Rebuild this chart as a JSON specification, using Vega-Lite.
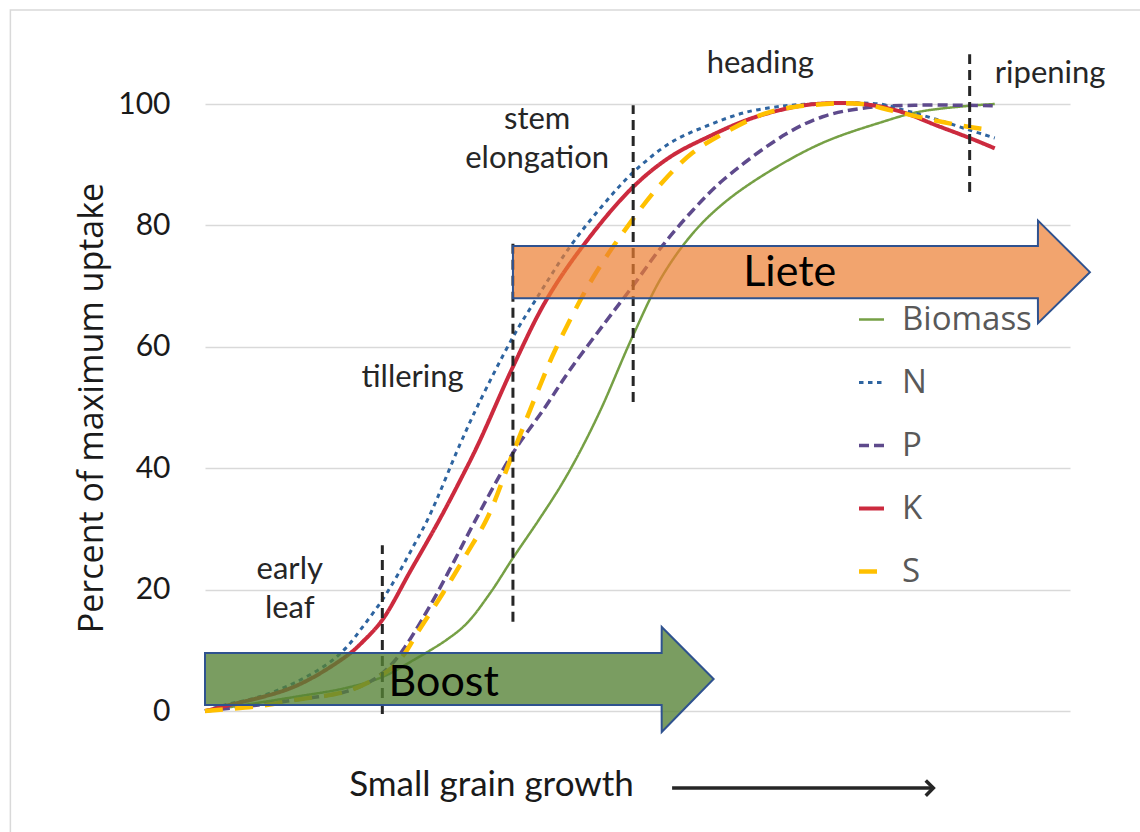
{
  "$schema": "https://vega.github.io/schema/vega-lite/v6.json",
  "width": 865,
  "height": 607,
  "autosize": {"type": "none"},
  "padding": {"left": 205, "top": 104, "right": 70, "bottom": 121},
  "background": "white",
  "config": {
    "view": {"stroke": null},
    "axis": {"titleFontWeight": "normal"}
  },
  "layer": [
    {
      "data": {"values": [{"x": -22.5, "x2": 200, "y": 115.5, "y2": -200}]},
      "mark": {"type": "rect", "fill": null, "stroke": "#d9d9d9", "strokeWidth": 1.5, "clip": false},
      "encoding": {
        "x": {"field": "x", "type": "quantitative", "scale": {"domain": [0, 100], "nice": false}},
        "x2": {"field": "x2"},
        "y": {"field": "y", "type": "quantitative", "scale": {"domain": [0, 100], "nice": false}},
        "y2": {"field": "y2"}
      }
    },
    {
      "data": {"values": [
        {"s":"Biomass","x":0,"y":0},{"s":"Biomass","x":10.3,"y":2.3},{"s":"Biomass","x":16.3,"y":3.8},{"s":"Biomass","x":20.5,"y":5.6},{"s":"Biomass","x":24,"y":8.3},{"s":"Biomass","x":28,"y":11.8},{"s":"Biomass","x":30.3,"y":14.5},{"s":"Biomass","x":33,"y":19.5},{"s":"Biomass","x":35.6,"y":25.2},{"s":"Biomass","x":38.6,"y":31.5},{"s":"Biomass","x":41.0,"y":36.8},{"s":"Biomass","x":43.0,"y":41.8},{"s":"Biomass","x":45.7,"y":49.5},{"s":"Biomass","x":49.4,"y":61.6},{"s":"Biomass","x":52.8,"y":71.5},{"s":"Biomass","x":56.4,"y":78.7},{"s":"Biomass","x":60.0,"y":83.7},{"s":"Biomass","x":64.9,"y":88.6},{"s":"Biomass","x":71.4,"y":93.6},{"s":"Biomass","x":78.2,"y":97},{"s":"Biomass","x":82.5,"y":98.7},{"s":"Biomass","x":88.3,"y":99.7},{"s":"Biomass","x":91.3,"y":100},
        {"s":"P","x":0,"y":0},{"s":"P","x":6.2,"y":1},{"s":"P","x":10.3,"y":1.8},{"s":"P","x":16.3,"y":3.2},{"s":"P","x":19.4,"y":5.1},{"s":"P","x":21.5,"y":7.6},{"s":"P","x":23.1,"y":10.5},{"s":"P","x":26.2,"y":17.8},{"s":"P","x":28.7,"y":24.4},{"s":"P","x":31.1,"y":31},{"s":"P","x":35.6,"y":42.5},{"s":"P","x":39.2,"y":49.8},{"s":"P","x":42.2,"y":56.2},{"s":"P","x":46.2,"y":63.9},{"s":"P","x":49.4,"y":69.9},{"s":"P","x":52.8,"y":76.5},{"s":"P","x":56.4,"y":82.5},{"s":"P","x":60.0,"y":87.6},{"s":"P","x":67.1,"y":95},{"s":"P","x":71.4,"y":97.9},{"s":"P","x":76.0,"y":99.3},{"s":"P","x":82.0,"y":99.8},{"s":"P","x":91.3,"y":99.7},
        {"s":"N","x":0,"y":0},{"s":"N","x":2.3,"y":1},{"s":"N","x":6.2,"y":2.3},{"s":"N","x":10.3,"y":4.6},{"s":"N","x":14.2,"y":7.8},{"s":"N","x":16.3,"y":10.4},{"s":"N","x":18.3,"y":14},{"s":"N","x":20.5,"y":18.3},{"s":"N","x":22.3,"y":22.5},{"s":"N","x":24.3,"y":27.7},{"s":"N","x":25.9,"y":32},{"s":"N","x":29.5,"y":44},{"s":"N","x":31.6,"y":50.5},{"s":"N","x":35.6,"y":61.6},{"s":"N","x":38.3,"y":67.9},{"s":"N","x":42.2,"y":76.5},{"s":"N","x":45.8,"y":83},{"s":"N","x":49.4,"y":88.6},{"s":"N","x":53.8,"y":93.6},{"s":"N","x":58.2,"y":96.5},{"s":"N","x":62.7,"y":98.7},{"s":"N","x":67.1,"y":99.7},{"s":"N","x":70,"y":100},{"s":"N","x":78,"y":100},{"s":"N","x":80.3,"y":99.2},{"s":"N","x":84.7,"y":97.4},{"s":"N","x":88.4,"y":95.7},{"s":"N","x":91.3,"y":94.4},
        {"s":"K","x":0,"y":0},{"s":"K","x":2.3,"y":0.8},{"s":"K","x":10.3,"y":4},{"s":"K","x":16.3,"y":9},{"s":"K","x":18.3,"y":11.5},{"s":"K","x":20.5,"y":15},{"s":"K","x":23.8,"y":23.2},{"s":"K","x":27.1,"y":31.5},{"s":"K","x":29.5,"y":38},{"s":"K","x":31.6,"y":44},{"s":"K","x":35.6,"y":56.7},{"s":"K","x":39.5,"y":67.8},{"s":"K","x":44.0,"y":77.2},{"s":"K","x":49.4,"y":86.2},{"s":"K","x":53.8,"y":91.3},{"s":"K","x":58.2,"y":94.6},{"s":"K","x":62.7,"y":97.4},{"s":"K","x":67.1,"y":99.2},{"s":"K","x":70.6,"y":100},{"s":"K","x":76,"y":100},{"s":"K","x":80.3,"y":98.8},{"s":"K","x":84.7,"y":96.4},{"s":"K","x":88.4,"y":94.4},{"s":"K","x":91.3,"y":92.7},
        {"s":"S","x":0,"y":0},{"s":"S","x":6.2,"y":0.8},{"s":"S","x":10.3,"y":1.8},{"s":"S","x":16.3,"y":3.2},{"s":"S","x":19.4,"y":5.1},{"s":"S","x":21.5,"y":7},{"s":"S","x":23.1,"y":9.5},{"s":"S","x":24.6,"y":13},{"s":"S","x":27.5,"y":19.4},{"s":"S","x":30.3,"y":26},{"s":"S","x":32.7,"y":32},{"s":"S","x":35.6,"y":42.5},{"s":"S","x":38.7,"y":53.5},{"s":"S","x":40.5,"y":59.5},{"s":"S","x":44.9,"y":71.5},{"s":"S","x":49.4,"y":80.9},{"s":"S","x":52.8,"y":87},{"s":"S","x":56.4,"y":92},{"s":"S","x":60.0,"y":95.2},{"s":"S","x":64.9,"y":98.5},{"s":"S","x":69.2,"y":99.7},{"s":"S","x":76,"y":100},{"s":"S","x":79.4,"y":98.9},{"s":"S","x":84.7,"y":97.2},{"s":"S","x":88.4,"y":96.2},{"s":"S","x":91.0,"y":95.7}
      ]},
      "mark": {"type": "line", "interpolate": "catmull-rom"},
      "encoding": {
        "x": {"field": "x", "type": "quantitative", "scale": {"domain": [0, 100], "nice": false},
          "axis": {"domain": false, "ticks": false, "labels": false, "grid": false, "title": "Small grain growth",
            "titleFont": "Lato", "titleFontSize": 35, "titleColor": "#1a1a1a", "titleX": 286, "titleY": 73,
            "titleAlign": "center", "titleBaseline": "middle", "titleAnchor": null}},
        "y": {"field": "y", "type": "quantitative", "scale": {"domain": [0, 100], "nice": false},
          "axis": {"values": [0, 20, 40, 60, 80, 100], "domain": false, "ticks": false, "grid": true,
            "gridColor": "#d9d9d9", "gridWidth": 1.5, "labelFont": "Lato", "labelFontSize": 30,
            "labelColor": "#1a1a1a", "labelPadding": 35, "title": "Percent of maximum uptake",
            "titleFont": "Open Sans", "titleFontSize": 34, "titleColor": "#1a1a1a", "titlePadding": 8}},
        "color": {"field": "s", "type": "nominal",
          "scale": {"domain": ["Biomass", "N", "P", "K", "S"], "range": ["#76a045", "#2e64a0", "#5e4a8c", "#cc2a3e", "#ffc000"]},
          "legend": {"title": null, "orient": "none", "legendX": 650, "legendY": 199, "symbolType": "stroke",
            "symbolSize": 625, "symbolStrokeWidth": 4, "labelFont": "Open Sans", "labelFontSize": 33,
            "labelColor": "#595959", "labelOffset": 14, "rowPadding": 29, "padding": 0}},
        "strokeDash": {"field": "s", "type": "nominal",
          "scale": {"domain": ["Biomass", "N", "P", "K", "S"], "range": [[1, 0], [4.5, 4.5], [10, 5], [1, 0], [18, 12]]},
          "legend": {"title": null, "orient": "none", "legendX": 650, "legendY": 199, "symbolType": "stroke",
            "symbolSize": 625, "symbolStrokeWidth": 4, "labelFont": "Open Sans", "labelFontSize": 33,
            "labelColor": "#595959", "labelOffset": 14, "rowPadding": 29, "padding": 0}},
        "strokeWidth": {"field": "s", "type": "nominal",
          "scale": {"domain": ["Biomass", "N", "P", "K", "S"], "range": [2.5, 4.5, 4, 2.5, 4]}, "legend": null}
      }
    },
    {
      "data": {"values": [
        {"x": 20.5, "y": -0.5, "y2": 27.3},
        {"x": 35.6, "y": 14.7, "y2": 77.6},
        {"x": 49.5, "y": 50.9, "y2": 99.8},
        {"x": 88.4, "y": 85.5, "y2": 108.2}
      ]},
      "mark": {"type": "rule", "stroke": "#262626", "strokeWidth": 3, "strokeDash": [10, 6]},
      "encoding": {
        "x": {"field": "x", "type": "quantitative"},
        "y": {"field": "y", "type": "quantitative"},
        "y2": {"field": "y2"}
      }
    },
    {
      "data": {"values": [
        {"x": 0, "lo": 0.99, "hi": 9.56},
        {"x": 52.79, "lo": 0.99, "hi": 9.56},
        {"x": 52.8, "lo": -3.46, "hi": 13.84},
        {"x": 58.8, "lo": 5.27, "hi": 5.27}
      ]},
      "mark": {"type": "area", "fill": "#548235", "fillOpacity": 0.78, "stroke": "#2f528f", "strokeWidth": 2, "interpolate": "linear"},
      "encoding": {
        "x": {"field": "x", "type": "quantitative"},
        "y": {"field": "lo", "type": "quantitative"},
        "y2": {"field": "hi"}
      }
    },
    {
      "data": {"values": [
        {"x": 35.6, "lo": 68.0, "hi": 76.6},
        {"x": 96.29, "lo": 68.0, "hi": 76.6},
        {"x": 96.3, "lo": 63.9, "hi": 80.8},
        {"x": 102.3, "lo": 72.3, "hi": 72.3}
      ]},
      "mark": {"type": "area", "fill": "#ed7d31", "fillOpacity": 0.7, "stroke": "#2f528f", "strokeWidth": 2, "interpolate": "linear"},
      "encoding": {
        "x": {"field": "x", "type": "quantitative"},
        "y": {"field": "lo", "type": "quantitative"},
        "y2": {"field": "hi"}
      }
    },
    {
      "data": {"values": [
        {"t": "Boost", "x": 27.6, "y": 4.6},
        {"t": "Liete", "x": 67.6, "y": 72.2}
      ]},
      "mark": {"type": "text", "font": "Lato", "fontSize": 43, "color": "#000000", "baseline": "middle", "align": "center"},
      "encoding": {
        "x": {"field": "x", "type": "quantitative"},
        "y": {"field": "y", "type": "quantitative"},
        "text": {"field": "t"}
      }
    },
    {
      "data": {"values": [
        {"t": "early\nleaf", "x": 9.8, "y": 23.2},
        {"t": "tillering", "x": 24.0, "y": 54.9},
        {"t": "stem\nelongation", "x": 38.4, "y": 97.4},
        {"t": "heading", "x": 64.2, "y": 106.6},
        {"t": "ripening", "x": 97.7, "y": 104.9}
      ]},
      "mark": {"type": "text", "font": "Lato", "fontSize": 31, "color": "#262626", "baseline": "middle", "align": "center", "lineBreak": "\n", "lineHeight": 39},
      "encoding": {
        "x": {"field": "x", "type": "quantitative"},
        "y": {"field": "y", "type": "quantitative"},
        "text": {"field": "t"}
      }
    },
    {
      "data": {"values": [{"x": 54.0, "x2": 84.0, "y": -12.7}]},
      "mark": {"type": "rule", "stroke": "#262626", "strokeWidth": 3.5},
      "encoding": {
        "x": {"field": "x", "type": "quantitative"},
        "x2": {"field": "x2"},
        "y": {"field": "y", "type": "quantitative"}
      }
    },
    {
      "data": {"values": [{"x": 84.2, "y": -12.7}]},
      "mark": {"type": "point", "shape": "M-1,-1L0,0L-1,1", "filled": false, "stroke": "#262626", "strokeWidth": 3.5, "size": 230, "opacity": 1},
      "encoding": {
        "x": {"field": "x", "type": "quantitative"},
        "y": {"field": "y", "type": "quantitative"}
      }
    }
  ]
}
